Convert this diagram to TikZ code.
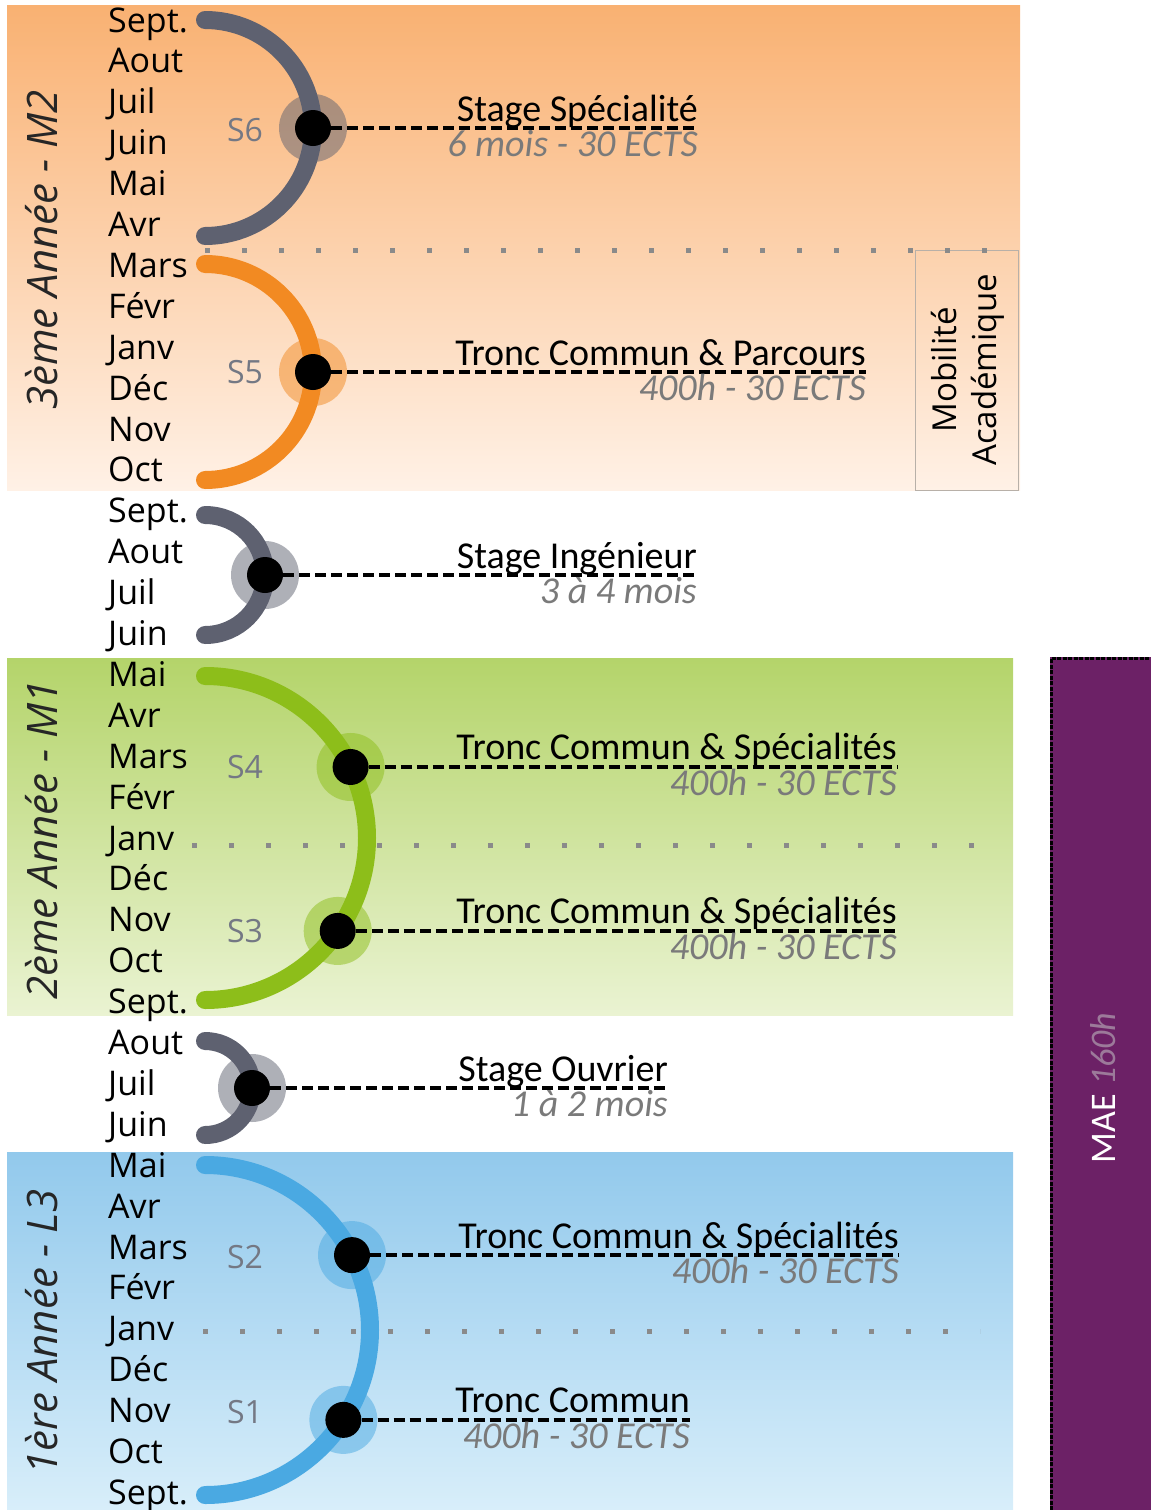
\documentclass[tikz,border=0pt]{standalone}
\usepackage{fontspec}
\setmainfont{Open Sans}
\newfontfamily\calfont{Carlito}
\usetikzlibrary{calc}

\definecolor{archgray}{HTML}{5E6170}
\definecolor{arcorange}{HTML}{F28A22}
\definecolor{arcgreen}{HTML}{8DBE1A}
\definecolor{arcblue}{HTML}{4AA9E2}
\definecolor{mauve}{HTML}{6C2166}
\definecolor{maegray}{HTML}{9C7A9A}
\definecolor{semgray}{HTML}{747884}
\definecolor{subgray}{HTML}{7A7A7A}
\definecolor{dotgray}{HTML}{8A8A8A}
\definecolor{boxgray}{HTML}{B8B0A8}
\definecolor{orangetop}{HTML}{F9B172}
\definecolor{orangebot}{HTML}{FFF1E6}
\definecolor{greentop}{HTML}{B4D46A}
\definecolor{greenbot}{HTML}{EAF3D2}
\definecolor{bluetop}{HTML}{92C9EC}
\definecolor{bluebot}{HTML}{D8EEFA}

\begin{document}
\begin{tikzpicture}[x=1pt,y=-1pt,
month/.style={anchor=base west,inner sep=0pt,font=\fontsize{34}{40}\selectfont},
semlabel/.style={text=semgray,inner sep=0pt,font=\fontsize{32}{38}\selectfont},
yearlabel/.style={rotate=90,inner sep=0pt,text=black!85,font=\fontsize{42}{50}\selectfont\itshape},
arcline/.style={line width=18pt,line cap=round},
halo/.style={circle,minimum size=68pt,inner sep=0pt,fill opacity=0.5},
dot/.style={circle,fill=black,minimum size=36pt,inner sep=0pt},
dashline/.style={dash pattern=on 11pt off 5pt,line width=3.5pt},
titletext/.style={anchor=base east,inner sep=0pt,font=\calfont\fontsize{38}{44}\selectfont},
subtext/.style={anchor=north east,inner sep=0pt,text=subgray,font=\calfont\itshape\fontsize{38}{44}\selectfont},
sepline/.style={dotgray,line width=5pt,dash pattern=on 5pt off 32pt}
]
\useasboundingbox (0,0) rectangle (1151,1510);

% bands
\shade[top color=orangetop,bottom color=orangebot] (7,5) rectangle (1020,490);
\shade[top color=greentop,bottom color=greenbot] (7,658) rectangle (1013,1015);
\shade[top color=bluetop,bottom color=bluebot] (7,1152) rectangle (1013,1510);

% MAE
\fill[mauve] (1050,657) rectangle (1151,1510);
\draw[line width=3pt,dash pattern=on 4pt off 1.5pt] (1051,1510) -- (1051,658) -- (1151,658);
\node[rotate=90,text=white,font=\calfont\fontsize{36}{40}\selectfont] (mae) at (1103,1088)
  {MAE \textcolor{maegray}{\itshape 160h}};

% mobilite
\draw[boxgray,line width=1pt] (915,250) rectangle (1018,490);
\node[rotate=90,align=center,font=\fontsize{33}{40}\selectfont] (mobil) at (968,370)
  {Mobilité\\Académique};

% separators
\draw[sepline] (205,250) -- (1000,250);
\draw[sepline] (192,845) -- (985,845);
\draw[sepline] (203,1331) -- (980,1331);

% years
\node[yearlabel] (y3) at (42,250) {3ème Année - M2};
\node[yearlabel] (y2) at (42,840) {2ème Année - M1};
\node[yearlabel] (y1) at (42,1332) {1ère Année - L3};

% months
\foreach \m [count=\i from 0] in {Sept.,Aout,Juil,Juin,Mai,Avr,Mars,Févr,Janv,Déc,Nov,Oct,
  Sept.,Aout,Juil,Juin,Mai,Avr,Mars,Févr,Janv,Déc,Nov,Oct,
  Sept.,Aout,Juil,Juin,Mai,Avr,Mars,Févr,Janv,Déc,Nov,Oct,Sept.}
  \node[month] (m\i) at (108,32+40.9*\i) {\m};

% semesters
\foreach \s/\y in {6/130,5/372,4/767,3/931,2/1257,1/1412}
  \node[semlabel] (s\s) at (245,\y) {S\s};

\coordinate (c1) at (205,128);
\coordinate (c2) at (205,372);
\coordinate (c3) at (205,575);
\coordinate (c4) at (205,838);
\coordinate (c5) at (205,1088);
\coordinate (c6) at (205,1330);

\def\semlist{6/c1/0/108/archgray/698/Stage Spécialité/6 mois - 30 ECTS,
  5/c2/0/108/arcorange/866/Tronc Commun \& Parcours/400h - 30 ECTS,
  i/c3/0/60/archgray/697/Stage Ingénieur/3 à 4 mois,
  4/c4/-26/162/arcgreen/897/Tronc Commun \& Spécialités/400h - 30 ECTS,
  3/c4/35/162/arcgreen/897/Tronc Commun \& Spécialités/400h - 30 ECTS,
  o/c5/0/47/archgray/668/Stage Ouvrier/1 à 2 mois,
  2/c6/-27/165/arcblue/899/Tronc Commun \& Spécialités/400h - 30 ECTS,
  1/c6/33/165/arcblue/690/Tronc Commun/400h - 30 ECTS}

\foreach \n/\c/\a/\r/\col/\ex/\top/\bot in \semlist
  \node[halo,fill=\col] (h\n) at ($(\c)+(\a:\r)$) {};

% arcs
\draw[arcline,archgray] ($(c1)+(-90:108)$) arc[start angle=-90,end angle=90,radius=108];
\draw[arcline,arcorange] ($(c2)+(-90:108)$) arc[start angle=-90,end angle=90,radius=108];
\draw[arcline,archgray] ($(c3)+(-90:60)$) arc[start angle=-90,end angle=90,radius=60];
\draw[arcline,arcgreen] ($(c4)+(-90:162)$) arc[start angle=-90,end angle=90,radius=162];
\draw[arcline,archgray] ($(c5)+(-90:47)$) arc[start angle=-90,end angle=90,radius=47];
\draw[arcline,arcblue] ($(c6)+(-90:165)$) arc[start angle=-90,end angle=90,radius=165];

\foreach \n/\c/\a/\r/\col/\ex/\top/\bot in \semlist {
  \node[dot] (d\n) at (h\n) {};
  \coordinate (x\n) at (\ex,0);
  \coordinate (e\n) at (d\n -| x\n);
  \draw[dashline] (d\n) -- (e\n);
  \node[titletext] (t\n) at ([yshift=7pt]e\n) {\top};
  \node[subtext] (b\n) at ([yshift=-2pt]e\n) {\bot};
}
\end{tikzpicture}
\end{document}
